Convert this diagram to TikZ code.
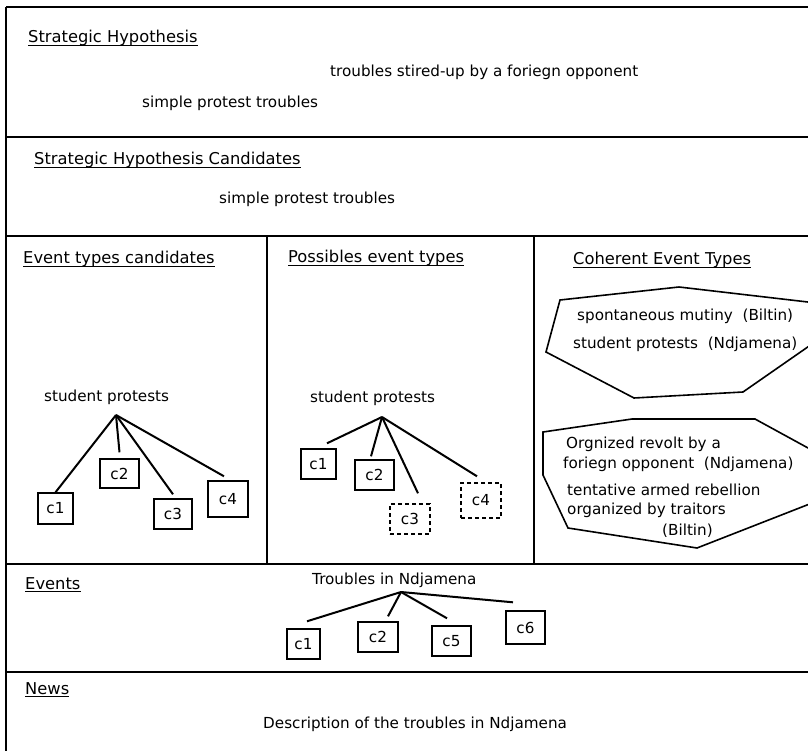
\documentclass[tikz,border=0pt]{standalone}
\usepackage{fontspec}
\setmainfont{DejaVu Sans}
\usetikzlibrary{calc}
\begin{document}
\begin{tikzpicture}[x=1pt,y=-1pt,
  frameline/.style={line width=2pt},
  head/.style={anchor=base west, inner sep=0pt, font=\fontsize{16.3}{19}\selectfont},
  body/.style={anchor=base west, inner sep=0pt, font=\fontsize{15.2}{18}\selectfont},
  cbox/.style={draw, line width=1.4pt, inner sep=0pt, font=\fontsize{15.2}{18}\selectfont},
  dbox/.style={cbox, dash pattern=on 4pt off 3pt},
  branch/.style={line width=2pt},
  ul/.style={line width=1pt},
  poly/.style={line width=1.6pt, line join=miter}]
\useasboundingbox (0,0) rectangle (808,751);
\begin{scope}
\clip (0,0) rectangle (808,751);
% frame
\draw[frameline] (6,7) -- (812,7);
\draw[frameline] (6,7) -- (6,755);
\draw[frameline] (6,137) -- (812,137);
\draw[frameline] (6,236) -- (812,236);
\draw[frameline] (6,564) -- (812,564);
\draw[frameline] (6,672) -- (812,672);
\draw[frameline] (267,236) -- (267,564);
\draw[frameline] (534,236) -- (534,564);
% polygons
\draw[poly] (560,300) -- (679,287) -- (825,304) -- (825,335) -- (743,392) -- (634,398) -- (546,352) -- cycle;
\draw[poly] (543,432) -- (632,419) -- (755,419) -- (830,460) -- (830,496) -- (697,548) -- (568,528) -- (543,475) -- cycle;
\end{scope}

% headers
\node[head] (h1) at (28,43) {Strategic Hypothesis};
\node[head] (h2) at (34,165) {Strategic Hypothesis Candidates};
\node[head] (h3) at (23,264) {Event types candidates};
\node[head] (h4) at (288,263) {Possibles event types};
\node[head] (h5) at (573,265) {Coherent Event Types\hspace{6pt}};
\node[head] (h6) at (25,589) {Events};
\node[head] (h7) at (25,694) {News};
\foreach \h in {h1,h2,h3,h4,h5,h6,h7}
  \draw[ul] ([yshift=-2.5pt]\h.base west) -- ([yshift=-2.5pt]\h.base east);

% body texts
\node[body] (t1) at (330,77) {troubles stired-up by a foriegn opponent};
\node[body] (t2) at (142,108) {simple protest troubles};
\node[body] (t3) at (219,204) {simple protest troubles};
\node[body] (t4) at (577,320) {spontaneous mutiny~\ (Biltin)};
\node[body] (t5) at (573,348) {student protests~\ (Ndjamena)};
\node[body] (t6) at (566,448) {Orgnized revolt by a};
\node[body] (t7) at (563,468) {foriegn opponent~\ (Ndjamena)};
\node[body] (t8) at (567,495) {tentative armed rebellion};
\node[body] (t9) at (567,514) {organized by traitors};
\node[body] (t10) at (662,535) {(Biltin)};
\node[body] (t11) at (263,728) {Description of the troubles in Ndjamena};

% left tree
\node[body] (lroot) at (44,401) {student protests};
\coordinate (la) at (116,415);
\node[cbox, minimum width=35pt, minimum height=31pt] (lc1) at (55.5,508.5) {c1};
\node[cbox, minimum width=39pt, minimum height=29pt] (lc2) at (119.5,473.5) {c2};
\node[cbox, minimum width=38pt, minimum height=30pt] (lc3) at (173,514) {c3};
\node[cbox, minimum width=40pt, minimum height=36pt] (lc4) at (228,499) {c4};
\draw[branch] (la) -- (lc1.north);
\draw[branch] (la) -- ([yshift=6pt]lc2.north);
\draw[branch] (la) -- ([yshift=4pt]lc3.north);
\draw[branch] (la) -- ([xshift=-4pt,yshift=4pt]lc4.north);

% middle tree
\node[body] (mroot) at (310,402) {student protests};
\coordinate (ma) at (382,417);
\node[cbox, minimum width=35pt, minimum height=30pt] (mc1) at (318.5,464) {c1};
\node[cbox, minimum width=39pt, minimum height=30pt] (mc2) at (374.5,475) {c2};
\node[dbox, minimum width=40pt, minimum height=30pt] (mc3) at (410,519) {c3};
\node[dbox, minimum width=40pt, minimum height=35pt] (mc4) at (481,500.5) {c4};
\draw[branch] (ma) -- ([xshift=8.5pt,yshift=5pt]mc1.north);
\draw[branch] (ma) -- ([xshift=-3.5pt,yshift=3pt]mc2.north);
\draw[branch] (ma) -- ([xshift=8pt,yshift=10pt]mc3.north);
\draw[branch] (ma) -- ([xshift=-4pt,yshift=6pt]mc4.north);

% events tree
\node[body] (eroot) at (312,584) {Troubles in Ndjamena};
\coordinate (ea) at (401,592);
\node[cbox, minimum width=33pt, minimum height=30pt] (ec1) at (303.5,644) {c1};
\node[cbox, minimum width=40pt, minimum height=30pt] (ec2) at (378,637) {c2};
\node[cbox, minimum width=39pt, minimum height=30pt] (ec5) at (451.5,641) {c5};
\node[cbox, minimum width=39pt, minimum height=33pt] (ec6) at (525.5,627.5) {c6};
\draw[branch] (ea) -- ([xshift=3.5pt,yshift=7pt]ec1.north);
\draw[branch] (ea) -- ([xshift=10pt,yshift=5pt]ec2.north);
\draw[branch] (ea) -- ([xshift=-4.5pt,yshift=7pt]ec5.north);
\draw[branch] (ea) -- ([xshift=-12.5pt,yshift=8pt]ec6.north);
\end{tikzpicture}
\end{document}
